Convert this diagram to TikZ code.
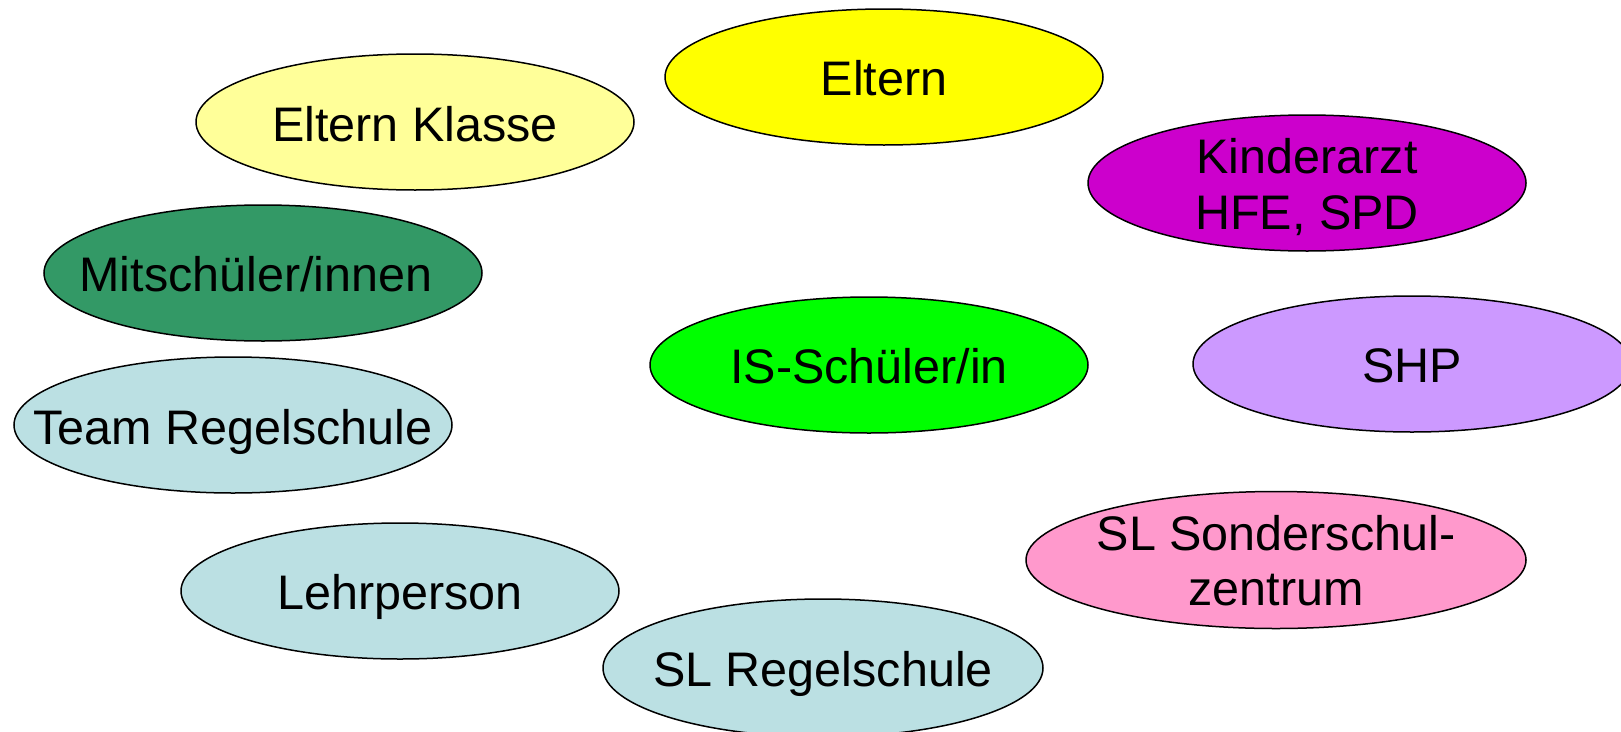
\documentclass[tikz,border=0pt]{standalone}
\usepackage{fontspec}
\setmainfont{Liberation Sans}
\usetikzlibrary{shapes.geometric,calc}
\definecolor{cYellow}{HTML}{FFFF00}
\definecolor{cLightYellow}{HTML}{FFFF99}
\definecolor{cMagenta}{HTML}{CC00CC}
\definecolor{cDarkGreen}{HTML}{339966}
\definecolor{cGreen}{HTML}{00FF00}
\definecolor{cLilac}{HTML}{CC99FF}
\definecolor{cTeal}{HTML}{BBE0E3}
\definecolor{cPink}{HTML}{FF99CC}
\tikzset{
  oval/.style={ellipse, draw=black, line width=1.5pt, inner sep=0pt, outer sep=0pt,
    minimum width=438pt, minimum height=136pt},
  lbl/.style={anchor=base, inner sep=0pt, font=\fontsize{48.5}{56}\selectfont}
}
\begin{document}
\begin{tikzpicture}[x=1pt,y=-1pt]
\useasboundingbox (0,0) rectangle (1621,731);
\fill[white] (0,0) rectangle (1621,731);
% ellipses
\node[oval, fill=cYellow] (eltern) at (884,77) {};
\node[oval, fill=cLightYellow] (elternklasse) at (415,122) {};
\node[oval, fill=cMagenta] (kinderarzt) at (1307,183) {};
\node[oval, fill=cDarkGreen] (mitschueler) at (263,273) {};
\node[oval, fill=cGreen] (isschueler) at (869,365) {};
\node[oval, fill=cLilac] (shp) at (1412,364) {};
\node[oval, fill=cTeal] (team) at (233,425) {};
\node[oval, fill=cPink, minimum width=500pt, minimum height=137pt] (slsonder) at (1276,560) {};
\node[oval, fill=cTeal] (lehrperson) at (400,591) {};
\node[oval, fill=cTeal, minimum width=440pt, minimum height=138pt] (slregel) at (823,668) {};
% labels
\node[lbl] (t-eltern) at ($(eltern.center)+(0,18)$) {Eltern};
\node[lbl] (t-elternklasse) at ($(elternklasse.center)+(0,19)$) {Eltern Klasse};
\node[lbl] (t-kinderarzt1) at ($(kinderarzt.center)+(0,-10)$) {Kinderarzt};
\node[lbl] (t-kinderarzt2) at ($(kinderarzt.center)+(0,46)$) {HFE, SPD};
\node[lbl] (t-mitschueler) at ($(mitschueler.center)+(-7,18)$) {Mitschüler/innen};
\node[lbl] (t-isschueler) at ($(isschueler.center)+(0,18)$) {IS-Schüler/in};
\node[lbl] (t-shp) at ($(shp.center)+(0,18)$) {SHP};
\node[lbl] (t-team) at ($(team.center)+(0,19)$) {Team Regelschule};
\node[lbl] (t-slsonder1) at ($(slsonder.center)+(0,-10)$) {SL Sonderschul-};
\node[lbl] (t-slsonder2) at ($(slsonder.center)+(0,45)$) {zentrum};
\node[lbl] (t-lehrperson) at ($(lehrperson.center)+(0,18)$) {Lehrperson};
\node[lbl] (t-slregel) at ($(slregel.center)+(0,18)$) {SL Regelschule};
\end{tikzpicture}
\end{document}
